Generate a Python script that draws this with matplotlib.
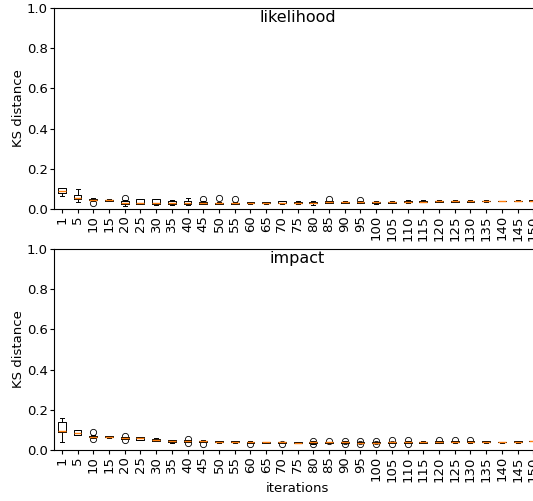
import matplotlib
matplotlib.use("Agg")
import matplotlib.pyplot as plt

iterations = [1, 5, 10, 15, 20, 25, 30, 35, 40, 45, 50, 55, 60, 65, 70, 75, 80, 85, 90, 95,
              100, 105, 110, 115, 120, 125, 130, 135, 140, 145, 150]

# likelihood panel: box stats per iteration
lik_med = [0.088, 0.055, 0.045, 0.042, 0.030, 0.030, 0.030, 0.030, 0.030, 0.030, 0.027, 0.028, 0.030, 0.029, 0.031, 0.030,
           0.031, 0.033, 0.032, 0.033, 0.032, 0.033, 0.035, 0.036, 0.037, 0.038, 0.038, 0.038, 0.039, 0.040, 0.041]
lik_q1 = [0.078, 0.048, 0.043, 0.040, 0.025, 0.025, 0.022, 0.025, 0.025, 0.026, 0.025, 0.026, 0.027, 0.027, 0.028, 0.027,
          0.029, 0.030, 0.030, 0.031, 0.030, 0.031, 0.032, 0.034, 0.035, 0.036, 0.036, 0.037, 0.038, 0.039, 0.040]
lik_q3 = [0.102, 0.068, 0.050, 0.045, 0.038, 0.048, 0.048, 0.040, 0.040, 0.035, 0.030, 0.031, 0.034, 0.033, 0.037, 0.035,
          0.034, 0.038, 0.035, 0.036, 0.035, 0.036, 0.040, 0.041, 0.041, 0.041, 0.041, 0.040, 0.040, 0.041, 0.042]
lik_lo = [0.065, 0.035, 0.040, 0.038, 0.015, 0.022, 0.020, 0.020, 0.020, 0.024, 0.023, 0.024, 0.022, 0.025, 0.026, 0.024,
          0.020, 0.028, 0.028, 0.029, 0.025, 0.029, 0.030, 0.032, 0.033, 0.034, 0.034, 0.035, 0.037, 0.038, 0.040]
lik_hi = [0.105, 0.100, 0.052, 0.047, 0.042, 0.050, 0.050, 0.045, 0.055, 0.038, 0.032, 0.033, 0.036, 0.035, 0.038, 0.037,
          0.040, 0.040, 0.040, 0.038, 0.040, 0.040, 0.042, 0.043, 0.043, 0.043, 0.043, 0.042, 0.041, 0.042, 0.043]
lik_fliers = [[], [], [0.030], [], [0.055], [], [], [], [], [0.050], [0.055], [0.050], [], [], [], [],
              [], [0.047], [], [0.046], [], [], [], [], [], [], [], [], [], [], []]

# impact panel
imp_med = [0.092, 0.083, 0.066, 0.065, 0.060, 0.057, 0.050, 0.045, 0.044, 0.042, 0.040, 0.039, 0.038, 0.037, 0.037, 0.036,
           0.037, 0.037, 0.037, 0.036, 0.036, 0.037, 0.037, 0.038, 0.039, 0.040, 0.040, 0.040, 0.039, 0.040, 0.044]
imp_q1 = [0.087, 0.075, 0.062, 0.062, 0.055, 0.050, 0.046, 0.037, 0.040, 0.040, 0.038, 0.037, 0.036, 0.035, 0.035, 0.034,
          0.034, 0.035, 0.035, 0.034, 0.034, 0.035, 0.035, 0.036, 0.036, 0.037, 0.037, 0.037, 0.037, 0.037, 0.043]
imp_q3 = [0.140, 0.097, 0.070, 0.068, 0.063, 0.062, 0.056, 0.048, 0.048, 0.045, 0.043, 0.042, 0.040, 0.039, 0.039, 0.038,
          0.040, 0.039, 0.040, 0.039, 0.039, 0.039, 0.040, 0.041, 0.042, 0.043, 0.043, 0.042, 0.040, 0.042, 0.045]
imp_lo = [0.037, 0.072, 0.060, 0.060, 0.053, 0.048, 0.043, 0.033, 0.038, 0.038, 0.036, 0.035, 0.035, 0.033, 0.033, 0.032,
          0.031, 0.033, 0.033, 0.032, 0.032, 0.033, 0.033, 0.034, 0.034, 0.035, 0.035, 0.035, 0.036, 0.035, 0.043]
imp_hi = [0.158, 0.100, 0.072, 0.070, 0.065, 0.064, 0.058, 0.050, 0.050, 0.047, 0.045, 0.044, 0.042, 0.041, 0.041, 0.040,
          0.042, 0.041, 0.042, 0.041, 0.041, 0.041, 0.042, 0.043, 0.044, 0.045, 0.045, 0.044, 0.041, 0.044, 0.045]
imp_fliers = [[], [], [0.088, 0.055], [], [0.070, 0.050], [], [], [], [0.055, 0.032], [0.030], [], [], [0.030], [], [0.030], [],
              [0.030, 0.045], [0.045], [0.030, 0.045], [0.030, 0.045], [0.028, 0.046], [0.028, 0.048], [0.028, 0.048], [],
              [0.050], [0.047], [0.047], [], [], [], []]


def make_stats(med, q1, q3, lo, hi, fliers):
    return [
        {"med": m, "q1": a, "q3": b, "whislo": l, "whishi": h, "fliers": f}
        for m, a, b, l, h, f in zip(med, q1, q3, lo, hi, fliers)
    ]


panels = [
    ("likelihood", make_stats(lik_med, lik_q1, lik_q3, lik_lo, lik_hi, lik_fliers)),
    ("impact", make_stats(imp_med, imp_q1, imp_q3, imp_lo, imp_hi, imp_fliers)),
]

fig = plt.figure(figsize=(5.33, 5.01), dpi=100)
ax_top = fig.add_axes([0.1013, 0.583, 0.914, 0.401])
ax_bot = fig.add_axes([0.1013, 0.102, 0.914, 0.401])

lw = 0.7
for ax, (name, stats) in zip([ax_top, ax_bot], panels):
    ax.bxp(
        stats, positions=range(1, len(stats) + 1), widths=0.5,
        boxprops={"linewidth": lw}, whiskerprops={"linewidth": lw}, capprops={"linewidth": lw},
        medianprops={"linewidth": 1.0, "color": "C1"},
        flierprops={"markersize": 4.5, "markeredgewidth": 0.6},
    )
    ax.set_xlim(0.5, len(stats) + 0.5)
    ax.set_ylim(0, 1)
    ax.set_xticks(range(1, len(stats) + 1))
    ax.set_xticklabels([str(i) for i in iterations], rotation=90, fontsize=9.5)
    ax.tick_params(axis="both", length=3, pad=1.5)
    ax.tick_params(axis="y", labelsize=9.5)
    ax.set_ylabel("KS distance", fontsize=9.5, labelpad=1.5)
    ax.text(0.5, 0.955, name, transform=ax.transAxes, ha="center", va="center", fontsize=11.5)

ax_bot.set_xlabel("iterations", fontsize=9.5, labelpad=0.5)

fig.savefig("out.png", dpi=100)
